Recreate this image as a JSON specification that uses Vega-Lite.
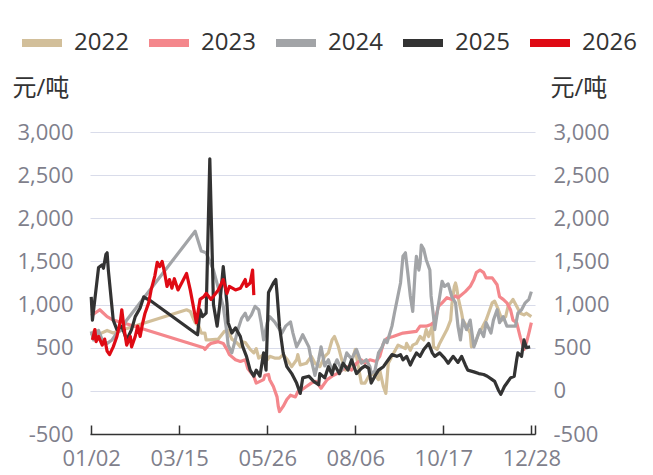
{
  "$schema": "https://vega.github.io/schema/vega-lite/v6.json",
  "width": 445,
  "height": 302,
  "autosize": {"type": "none"},
  "padding": {"left": 90, "top": 132, "right": 118, "bottom": 41},
  "background": "white",
  "config": {
    "font": "Open Sans, Noto Sans CJK SC",
    "view": {"stroke": null},
    "locale": {"number": {"decimal": ".", "thousands": ",", "grouping": [3], "currency": ["", ""], "minus": "-"}}
  },
  "datasets": {
    "prices": [
      {"year":"2022","day":2,"price":640},{"year":"2022","day":5,"price":710},{"year":"2022","day":9,"price":660},{"year":"2022","day":15,"price":700},{"year":"2022","day":20,"price":670},{"year":"2022","day":24,"price":690},{"year":"2022","day":80,"price":940},{"year":"2022","day":83,"price":920},{"year":"2022","day":87,"price":790},{"year":"2022","day":90,"price":750},{"year":"2022","day":92,"price":670},{"year":"2022","day":95,"price":670},{"year":"2022","day":96,"price":590},{"year":"2022","day":99,"price":590},{"year":"2022","day":106,"price":600},{"year":"2022","day":111,"price":690},{"year":"2022","day":114,"price":700},{"year":"2022","day":117,"price":600},{"year":"2022","day":121,"price":560},{"year":"2022","day":124,"price":510},{"year":"2022","day":125,"price":570},{"year":"2022","day":128,"price":560},{"year":"2022","day":132,"price":480},{"year":"2022","day":135,"price":440},{"year":"2022","day":137,"price":490},{"year":"2022","day":139,"price":380},{"year":"2022","day":143,"price":420},{"year":"2022","day":146,"price":360},{"year":"2022","day":148,"price":400},{"year":"2022","day":152,"price":380},{"year":"2022","day":156,"price":380},{"year":"2022","day":159,"price":420},{"year":"2022","day":162,"price":370},{"year":"2022","day":166,"price":280},{"year":"2022","day":170,"price":360},{"year":"2022","day":171,"price":420},{"year":"2022","day":173,"price":300},{"year":"2022","day":178,"price":320},{"year":"2022","day":182,"price":400},{"year":"2022","day":185,"price":320},{"year":"2022","day":189,"price":280},{"year":"2022","day":193,"price":400},{"year":"2022","day":196,"price":440},{"year":"2022","day":199,"price":590},{"year":"2022","day":201,"price":630},{"year":"2022","day":204,"price":520},{"year":"2022","day":207,"price":360},{"year":"2022","day":210,"price":240},{"year":"2022","day":214,"price":290},{"year":"2022","day":218,"price":480},{"year":"2022","day":220,"price":320},{"year":"2022","day":223,"price":90},{"year":"2022","day":226,"price":90},{"year":"2022","day":229,"price":170},{"year":"2022","day":233,"price":200},{"year":"2022","day":237,"price":130},{"year":"2022","day":238,"price":240},{"year":"2022","day":241,"price":50},{"year":"2022","day":243,"price":-30},{"year":"2022","day":245,"price":320},{"year":"2022","day":248,"price":400},{"year":"2022","day":251,"price":480},{"year":"2022","day":253,"price":530},{"year":"2022","day":256,"price":510},{"year":"2022","day":259,"price":490},{"year":"2022","day":260,"price":550},{"year":"2022","day":263,"price":470},{"year":"2022","day":265,"price":530},{"year":"2022","day":268,"price":550},{"year":"2022","day":271,"price":630},{"year":"2022","day":274,"price":590},{"year":"2022","day":276,"price":710},{"year":"2022","day":278,"price":630},{"year":"2022","day":281,"price":750},{"year":"2022","day":282,"price":510},{"year":"2022","day":285,"price":480},{"year":"2022","day":287,"price":550},{"year":"2022","day":290,"price":630},{"year":"2022","day":293,"price":710},{"year":"2022","day":296,"price":820},{"year":"2022","day":297,"price":1000},{"year":"2022","day":299,"price":1210},{"year":"2022","day":300,"price":1250},{"year":"2022","day":301,"price":1190},{"year":"2022","day":302,"price":1090},{"year":"2022","day":305,"price":900},{"year":"2022","day":306,"price":820},{"year":"2022","day":309,"price":750},{"year":"2022","day":312,"price":670},{"year":"2022","day":313,"price":510},{"year":"2022","day":316,"price":550},{"year":"2022","day":319,"price":670},{"year":"2022","day":321,"price":710},{"year":"2022","day":325,"price":820},{"year":"2022","day":327,"price":900},{"year":"2022","day":330,"price":1020},{"year":"2022","day":332,"price":1040},{"year":"2022","day":335,"price":940},{"year":"2022","day":338,"price":820},{"year":"2022","day":341,"price":860},{"year":"2022","day":343,"price":980},{"year":"2022","day":347,"price":1060},{"year":"2022","day":350,"price":980},{"year":"2022","day":353,"price":900},{"year":"2022","day":356,"price":880},{"year":"2022","day":358,"price":900},{"year":"2022","day":362,"price":860},
      {"year":"2023","day":2,"price":870},{"year":"2023","day":9,"price":940},{"year":"2023","day":15,"price":860},{"year":"2023","day":20,"price":820},{"year":"2023","day":28,"price":790},{"year":"2023","day":94,"price":500},{"year":"2023","day":95,"price":480},{"year":"2023","day":98,"price":530},{"year":"2023","day":100,"price":550},{"year":"2023","day":106,"price":570},{"year":"2023","day":110,"price":550},{"year":"2023","day":113,"price":480},{"year":"2023","day":115,"price":420},{"year":"2023","day":120,"price":360},{"year":"2023","day":124,"price":340},{"year":"2023","day":128,"price":360},{"year":"2023","day":130,"price":260},{"year":"2023","day":135,"price":170},{"year":"2023","day":137,"price":90},{"year":"2023","day":140,"price":110},{"year":"2023","day":143,"price":130},{"year":"2023","day":144,"price":180},{"year":"2023","day":147,"price":190},{"year":"2023","day":148,"price":130},{"year":"2023","day":151,"price":50},{"year":"2023","day":154,"price":-70},{"year":"2023","day":155,"price":-180},{"year":"2023","day":156,"price":-240},{"year":"2023","day":159,"price":-180},{"year":"2023","day":162,"price":-100},{"year":"2023","day":165,"price":-50},{"year":"2023","day":169,"price":-70},{"year":"2023","day":171,"price":-10},{"year":"2023","day":174,"price":10},{"year":"2023","day":178,"price":50},{"year":"2023","day":182,"price":90},{"year":"2023","day":186,"price":110},{"year":"2023","day":190,"price":30},{"year":"2023","day":195,"price":130},{"year":"2023","day":199,"price":170},{"year":"2023","day":203,"price":200},{"year":"2023","day":207,"price":240},{"year":"2023","day":211,"price":280},{"year":"2023","day":215,"price":240},{"year":"2023","day":219,"price":320},{"year":"2023","day":223,"price":360},{"year":"2023","day":226,"price":320},{"year":"2023","day":230,"price":360},{"year":"2023","day":235,"price":340},{"year":"2023","day":238,"price":400},{"year":"2023","day":241,"price":550},{"year":"2023","day":244,"price":610},{"year":"2023","day":249,"price":630},{"year":"2023","day":257,"price":670},{"year":"2023","day":268,"price":690},{"year":"2023","day":271,"price":750},{"year":"2023","day":276,"price":750},{"year":"2023","day":280,"price":770},{"year":"2023","day":283,"price":800},{"year":"2023","day":286,"price":980},{"year":"2023","day":289,"price":1020},{"year":"2023","day":293,"price":1080},{"year":"2023","day":297,"price":1060},{"year":"2023","day":300,"price":1100},{"year":"2023","day":302,"price":1080},{"year":"2023","day":308,"price":1150},{"year":"2023","day":312,"price":1210},{"year":"2023","day":315,"price":1290},{"year":"2023","day":317,"price":1370},{"year":"2023","day":320,"price":1400},{"year":"2023","day":323,"price":1370},{"year":"2023","day":325,"price":1310},{"year":"2023","day":330,"price":1310},{"year":"2023","day":334,"price":1230},{"year":"2023","day":336,"price":1090},{"year":"2023","day":339,"price":1060},{"year":"2023","day":342,"price":1020},{"year":"2023","day":345,"price":940},{"year":"2023","day":347,"price":820},{"year":"2023","day":350,"price":790},{"year":"2023","day":353,"price":620},{"year":"2023","day":356,"price":480},{"year":"2023","day":358,"price":560},{"year":"2023","day":360,"price":670},{"year":"2023","day":362,"price":790},
      {"year":"2024","day":2,"price":690},{"year":"2024","day":4,"price":590},{"year":"2024","day":8,"price":700},{"year":"2024","day":11,"price":590},{"year":"2024","day":15,"price":550},{"year":"2024","day":19,"price":590},{"year":"2024","day":23,"price":670},{"year":"2024","day":27,"price":710},{"year":"2024","day":30,"price":800},{"year":"2024","day":87,"price":1850},{"year":"2024","day":92,"price":1620},{"year":"2024","day":96,"price":1600},{"year":"2024","day":102,"price":1400},{"year":"2024","day":110,"price":980},{"year":"2024","day":113,"price":670},{"year":"2024","day":114,"price":530},{"year":"2024","day":117,"price":440},{"year":"2024","day":120,"price":600},{"year":"2024","day":122,"price":710},{"year":"2024","day":125,"price":840},{"year":"2024","day":128,"price":900},{"year":"2024","day":130,"price":820},{"year":"2024","day":133,"price":880},{"year":"2024","day":136,"price":980},{"year":"2024","day":139,"price":940},{"year":"2024","day":141,"price":790},{"year":"2024","day":143,"price":590},{"year":"2024","day":146,"price":790},{"year":"2024","day":148,"price":860},{"year":"2024","day":152,"price":800},{"year":"2024","day":158,"price":670},{"year":"2024","day":161,"price":750},{"year":"2024","day":165,"price":800},{"year":"2024","day":167,"price":670},{"year":"2024","day":170,"price":510},{"year":"2024","day":173,"price":590},{"year":"2024","day":175,"price":650},{"year":"2024","day":180,"price":510},{"year":"2024","day":182,"price":360},{"year":"2024","day":185,"price":180},{"year":"2024","day":188,"price":360},{"year":"2024","day":190,"price":510},{"year":"2024","day":193,"price":290},{"year":"2024","day":196,"price":360},{"year":"2024","day":199,"price":230},{"year":"2024","day":203,"price":360},{"year":"2024","day":207,"price":240},{"year":"2024","day":211,"price":440},{"year":"2024","day":215,"price":370},{"year":"2024","day":219,"price":480},{"year":"2024","day":223,"price":320},{"year":"2024","day":227,"price":360},{"year":"2024","day":230,"price":280},{"year":"2024","day":231,"price":200},{"year":"2024","day":234,"price":230},{"year":"2024","day":237,"price":440},{"year":"2024","day":240,"price":510},{"year":"2024","day":242,"price":590},{"year":"2024","day":244,"price":560},{"year":"2024","day":248,"price":750},{"year":"2024","day":250,"price":900},{"year":"2024","day":255,"price":1250},{"year":"2024","day":257,"price":1560},{"year":"2024","day":259,"price":1600},{"year":"2024","day":261,"price":1360},{"year":"2024","day":263,"price":1100},{"year":"2024","day":265,"price":920},{"year":"2024","day":267,"price":1400},{"year":"2024","day":268,"price":1560},{"year":"2024","day":270,"price":1400},{"year":"2024","day":271,"price":1480},{"year":"2024","day":272,"price":1690},{"year":"2024","day":274,"price":1640},{"year":"2024","day":276,"price":1520},{"year":"2024","day":279,"price":1400},{"year":"2024","day":280,"price":1100},{"year":"2024","day":282,"price":860},{"year":"2024","day":283,"price":710},{"year":"2024","day":286,"price":1000},{"year":"2024","day":289,"price":1270},{"year":"2024","day":291,"price":1210},{"year":"2024","day":294,"price":1240},{"year":"2024","day":297,"price":1090},{"year":"2024","day":300,"price":1020},{"year":"2024","day":302,"price":750},{"year":"2024","day":304,"price":590},{"year":"2024","day":306,"price":820},{"year":"2024","day":309,"price":710},{"year":"2024","day":312,"price":820},{"year":"2024","day":315,"price":510},{"year":"2024","day":317,"price":590},{"year":"2024","day":320,"price":710},{"year":"2024","day":323,"price":630},{"year":"2024","day":325,"price":790},{"year":"2024","day":329,"price":670},{"year":"2024","day":331,"price":820},{"year":"2024","day":334,"price":940},{"year":"2024","day":336,"price":790},{"year":"2024","day":339,"price":860},{"year":"2024","day":342,"price":750},{"year":"2024","day":345,"price":750},{"year":"2024","day":349,"price":750},{"year":"2024","day":351,"price":900},{"year":"2024","day":354,"price":940},{"year":"2024","day":357,"price":1020},{"year":"2024","day":360,"price":1060},{"year":"2024","day":362,"price":1150},
      {"year":"2025","day":2,"price":1090},{"year":"2025","day":3,"price":820},{"year":"2025","day":8,"price":1430},{"year":"2025","day":11,"price":1460},{"year":"2025","day":12,"price":1420},{"year":"2025","day":14,"price":1580},{"year":"2025","day":15,"price":1600},{"year":"2025","day":16,"price":1400},{"year":"2025","day":20,"price":820},{"year":"2025","day":23,"price":710},{"year":"2025","day":27,"price":750},{"year":"2025","day":31,"price":590},{"year":"2025","day":35,"price":710},{"year":"2025","day":38,"price":860},{"year":"2025","day":42,"price":960},{"year":"2025","day":45,"price":1090},{"year":"2025","day":47,"price":1070},{"year":"2025","day":50,"price":1050},{"year":"2025","day":87,"price":670},{"year":"2025","day":89,"price":650},{"year":"2025","day":91,"price":940},{"year":"2025","day":93,"price":860},{"year":"2025","day":96,"price":900},{"year":"2025","day":99,"price":2690},{"year":"2025","day":102,"price":1000},{"year":"2025","day":105,"price":750},{"year":"2025","day":107,"price":980},{"year":"2025","day":110,"price":1440},{"year":"2025","day":113,"price":1020},{"year":"2025","day":114,"price":790},{"year":"2025","day":117,"price":670},{"year":"2025","day":120,"price":730},{"year":"2025","day":124,"price":630},{"year":"2025","day":126,"price":510},{"year":"2025","day":129,"price":400},{"year":"2025","day":132,"price":240},{"year":"2025","day":135,"price":170},{"year":"2025","day":137,"price":240},{"year":"2025","day":140,"price":170},{"year":"2025","day":143,"price":440},{"year":"2025","day":145,"price":240},{"year":"2025","day":146,"price":670},{"year":"2025","day":147,"price":1140},{"year":"2025","day":151,"price":1250},{"year":"2025","day":153,"price":1290},{"year":"2025","day":154,"price":1130},{"year":"2025","day":156,"price":750},{"year":"2025","day":159,"price":440},{"year":"2025","day":162,"price":280},{"year":"2025","day":166,"price":200},{"year":"2025","day":170,"price":90},{"year":"2025","day":173,"price":-30},{"year":"2025","day":175,"price":150},{"year":"2025","day":180,"price":170},{"year":"2025","day":184,"price":110},{"year":"2025","day":188,"price":70},{"year":"2025","day":189,"price":200},{"year":"2025","day":193,"price":150},{"year":"2025","day":196,"price":280},{"year":"2025","day":199,"price":190},{"year":"2025","day":201,"price":300},{"year":"2025","day":205,"price":200},{"year":"2025","day":208,"price":320},{"year":"2025","day":212,"price":240},{"year":"2025","day":215,"price":360},{"year":"2025","day":219,"price":200},{"year":"2025","day":223,"price":260},{"year":"2025","day":226,"price":290},{"year":"2025","day":229,"price":260},{"year":"2025","day":231,"price":90},{"year":"2025","day":234,"price":170},{"year":"2025","day":237,"price":240},{"year":"2025","day":241,"price":280},{"year":"2025","day":245,"price":360},{"year":"2025","day":248,"price":420},{"year":"2025","day":252,"price":400},{"year":"2025","day":255,"price":420},{"year":"2025","day":257,"price":360},{"year":"2025","day":260,"price":400},{"year":"2025","day":263,"price":300},{"year":"2025","day":265,"price":360},{"year":"2025","day":268,"price":440},{"year":"2025","day":271,"price":400},{"year":"2025","day":274,"price":480},{"year":"2025","day":278,"price":550},{"year":"2025","day":281,"price":440},{"year":"2025","day":283,"price":400},{"year":"2025","day":287,"price":440},{"year":"2025","day":291,"price":380},{"year":"2025","day":294,"price":320},{"year":"2025","day":298,"price":400},{"year":"2025","day":302,"price":330},{"year":"2025","day":305,"price":400},{"year":"2025","day":308,"price":300},{"year":"2025","day":310,"price":240},{"year":"2025","day":315,"price":220},{"year":"2025","day":319,"price":200},{"year":"2025","day":323,"price":190},{"year":"2025","day":326,"price":170},{"year":"2025","day":330,"price":130},{"year":"2025","day":332,"price":110},{"year":"2025","day":335,"price":10},{"year":"2025","day":337,"price":-40},{"year":"2025","day":340,"price":50},{"year":"2025","day":345,"price":150},{"year":"2025","day":348,"price":170},{"year":"2025","day":350,"price":360},{"year":"2025","day":351,"price":440},{"year":"2025","day":354,"price":400},{"year":"2025","day":356,"price":590},{"year":"2025","day":358,"price":500},{"year":"2025","day":361,"price":510},
      {"year":"2026","day":3,"price":590},{"year":"2026","day":5,"price":710},{"year":"2026","day":6,"price":570},{"year":"2026","day":8,"price":630},{"year":"2026","day":11,"price":530},{"year":"2026","day":13,"price":600},{"year":"2026","day":15,"price":460},{"year":"2026","day":17,"price":420},{"year":"2026","day":20,"price":510},{"year":"2026","day":23,"price":630},{"year":"2026","day":26,"price":820},{"year":"2026","day":27,"price":940},{"year":"2026","day":29,"price":710},{"year":"2026","day":31,"price":530},{"year":"2026","day":34,"price":630},{"year":"2026","day":35,"price":510},{"year":"2026","day":38,"price":630},{"year":"2026","day":40,"price":750},{"year":"2026","day":42,"price":630},{"year":"2026","day":44,"price":780},{"year":"2026","day":46,"price":900},{"year":"2026","day":49,"price":1020},{"year":"2026","day":51,"price":1170},{"year":"2026","day":54,"price":1330},{"year":"2026","day":56,"price":1490},{"year":"2026","day":58,"price":1440},{"year":"2026","day":60,"price":1500},{"year":"2026","day":62,"price":1370},{"year":"2026","day":64,"price":1210},{"year":"2026","day":66,"price":1290},{"year":"2026","day":68,"price":1190},{"year":"2026","day":70,"price":1300},{"year":"2026","day":73,"price":1170},{"year":"2026","day":76,"price":1250},{"year":"2026","day":80,"price":1360},{"year":"2026","day":83,"price":1170},{"year":"2026","day":85,"price":1020},{"year":"2026","day":88,"price":790},{"year":"2026","day":91,"price":1060},{"year":"2026","day":94,"price":1090},{"year":"2026","day":96,"price":1130},{"year":"2026","day":100,"price":1060},{"year":"2026","day":106,"price":1170},{"year":"2026","day":110,"price":1290},{"year":"2026","day":113,"price":1130},{"year":"2026","day":115,"price":1210},{"year":"2026","day":120,"price":1170},{"year":"2026","day":124,"price":1190},{"year":"2026","day":128,"price":1290},{"year":"2026","day":129,"price":1210},{"year":"2026","day":132,"price":1250},{"year":"2026","day":134,"price":1400},{"year":"2026","day":135,"price":1110}
    ]
  },
  "data": {"name": "prices"},
  "layer": [
    {
      "mark": {"type": "line", "strokeWidth": 3.2, "strokeJoin": "round"},
      "encoding": {
        "x": {
          "field": "day", "type": "quantitative",
          "scale": {"domain": [1, 365], "nice": false, "zero": false},
          "axis": {
            "title": null, "grid": false,
            "values": [2, 74, 146, 218, 290, 362, 365],
            "labelExpr": "datum.value == 365 ? '' : utcFormat(utc(2001, 0, datum.value), '%m/%d')",
            "domainColor": "#333333", "domainWidth": 1.5,
            "tickColor": "#333333", "tickWidth": 1.5, "tickSize": -9,
            "labelFontSize": 22, "labelColor": "#7F7F8C", "labelPadding": 23,
            "labelFlush": false, "labelOverlap": false
          }
        },
        "y": {
          "field": "price", "type": "quantitative",
          "scale": {"domain": [-500, 3000], "nice": false, "zero": false},
          "axis": {
            "orient": "left",
            "values": [-500, 0, 500, 1000, 1500, 2000, 2500, 3000],
            "format": ",d", "grid": true, "gridColor": "#D9DCEA", "gridWidth": 1.2,
            "domain": false, "ticks": false,
            "labelFontSize": 22, "labelColor": "#7F7F8C", "labelPadding": 17,
            "title": "元/吨", "titleAngle": 0, "titleAlign": "left", "titleBaseline": "middle",
            "titleX": -78, "titleY": -44, "titleFontSize": 24, "titleFontWeight": "normal", "titleColor": "#333333"
          }
        },
        "color": {
          "field": "year", "type": "nominal",
          "scale": {"domain": ["2022", "2023", "2024", "2025", "2026"], "range": ["#D2BF9A", "#F4878C", "#A2A4A7", "#333333", "#DF0A14"]},
          "legend": {
            "title": null, "orient": "none", "direction": "horizontal", "columns": 5,
            "legendX": -72, "legendY": -113,
            "symbolType": "stroke", "symbolSize": 1600, "symbolStrokeWidth": 8,
            "labelFontSize": 24, "labelColor": "#333333", "labelOffset": 8, "columnPadding": 4
          }
        }
      }
    },
    {
      "mark": {"type": "line", "strokeOpacity": 0},
      "encoding": {
        "x": {"field": "day", "type": "quantitative"},
        "y": {
          "field": "price", "type": "quantitative",
          "scale": {"domain": [-500, 3000], "nice": false, "zero": false},
          "axis": {
            "orient": "right",
            "values": [-500, 0, 500, 1000, 1500, 2000, 2500, 3000],
            "format": ",d", "grid": false, "domain": false, "ticks": false,
            "labelFontSize": 22, "labelColor": "#7F7F8C", "labelPadding": 18,
            "title": "元/吨", "titleAngle": 0, "titleAlign": "left", "titleBaseline": "middle",
            "titleX": 15, "titleY": -44, "titleFontSize": 24, "titleFontWeight": "normal", "titleColor": "#333333"
          }
        },
        "detail": {"field": "year"}
      }
    }
  ],
  "resolve": {"scale": {"y": "independent"}, "axis": {"y": "independent"}}
}
